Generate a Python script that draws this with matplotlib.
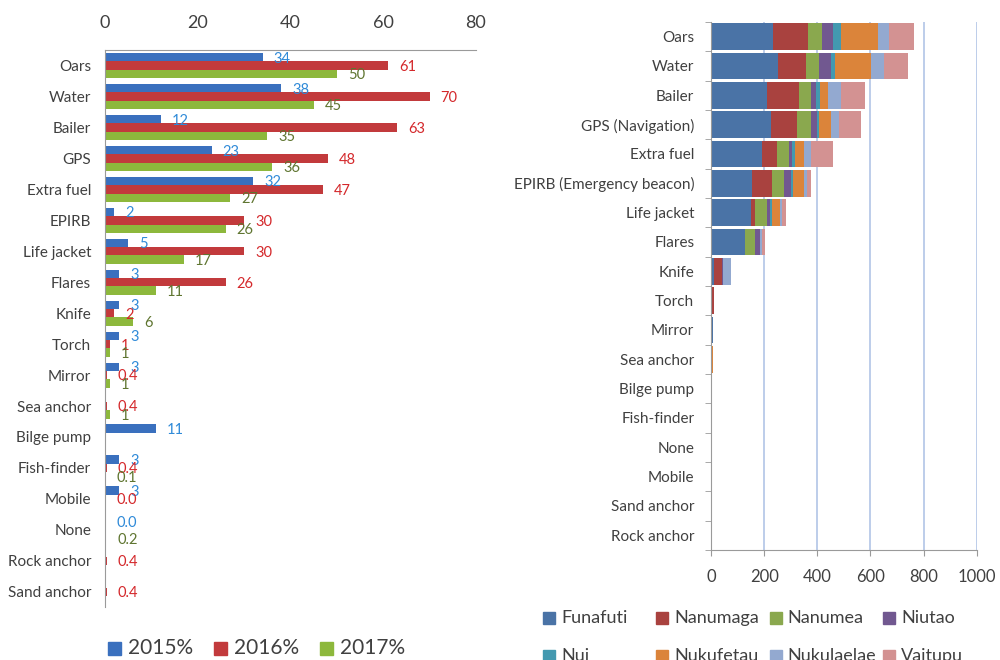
import numpy as np
import matplotlib.pyplot as plt
from matplotlib.patches import Rectangle

plt.rcParams['font.family'] = ['Lato', 'DejaVu Sans']

# ---------------- left chart data (percent of boats) ----------------
items_left = ['Oars', 'Water', 'Bailer', 'GPS', 'Extra fuel', 'EPIRB', 'Life jacket',
              'Flares', 'Knife', 'Torch', 'Mirror', 'Sea anchor', 'Bilge pump',
              'Fish-finder', 'Mobile', 'None', 'Rock anchor', 'Sand anchor']
pct_2015 = [34, 38, 12, 23, 32, 2, 5, 3, 3, 3, 3, None, 11, 3, 3, 0.0, None, None]
pct_2016 = [61, 70, 63, 48, 47, 30, 30, 26, 2, 1, 0.4, 0.4, None, 0.4, 0.0, None, 0.4, 0.4]
pct_2017 = [50, 45, 35, 36, 27, 26, 17, 11, 6, 1, 1, 1, None, 0.1, None, 0.2, None, None]
years = ['2015%', '2016%', '2017%']

# ---------------- right chart data (counts by island) ----------------
items_right = ['Oars', 'Water', 'Bailer', 'GPS (Navigation)', 'Extra fuel',
               'EPIRB (Emergency beacon)', 'Life jacket', 'Flares', 'Knife', 'Torch',
               'Mirror', 'Sea anchor', 'Bilge pump', 'Fish-finder', 'None', 'Mobile',
               'Sand anchor', 'Rock anchor']
islands = ['Funafuti', 'Nanumaga', 'Nanumea', 'Niutao', 'Nui', 'Nukufetau', 'Nukulaelae', 'Vaitupu']
funafuti = [232, 251, 211, 226, 192, 156, 152, 129, 11, 1, 7, 2, 5, 0, 0, 0, 0, 0]
nanumaga = [132, 106, 122, 96, 55, 72, 15, 0, 30, 9, 0, 0, 0, 0, 0, 0, 0, 0]
nanumea = [52, 51, 42, 54, 46, 46, 44, 37, 1, 0, 0, 0, 0, 0, 4, 0, 0, 0]
niutao = [45, 44, 19, 22, 11, 26, 10, 19, 2, 0, 0, 0, 0, 0, 0, 0, 0, 0]
nui = [30, 15, 17, 8, 11, 10, 7, 0, 2, 0, 0, 0, 0, 0, 0, 0, 0, 0]
nukufetau = [137, 134, 29, 46, 35, 40, 31, 0, 0, 0, 0, 5, 0, 4, 0, 0, 0, 0]
nukulaelae = [42, 49, 51, 30, 26, 10, 7, 6, 30, 0, 0, 0, 0, 0, 0, 0, 0, 0]
vaitupu = [94, 91, 90, 82, 85, 15, 15, 12, 0, 1, 0, 0, 0, 0, 0, 0, 0, 0]
island_counts = [funafuti, nanumaga, nanumea, niutao, nui, nukufetau, nukulaelae, vaitupu]

year_colors = ['#3A70BE', '#C23A3C', '#8DB83C']
label_colors = ['#2F8AD8', '#D4282B', '#5F7530']
island_colors = ['#4A73A6', '#A9423F', '#8AA84E', '#715890', '#4399B0', '#DB843A', '#93A9D0', '#D39292']
grey = '#9A9A9A'
text_col = '#404040'

fig = plt.figure(figsize=(10, 6.6), dpi=100, facecolor='white')

#-------------------- LEFT: grouped bars --------------------
ax = fig.add_axes([0.105, 0.080, 0.371, 0.844])
y = np.arange(len(items_left))
h = 0.27
for k, vals in enumerate([pct_2015, pct_2016, pct_2017]):
    pos = y + (k - 1) * h
    v = np.array([np.nan if a is None else a for a in vals], dtype=float)
    ax.barh(pos, np.nan_to_num(v), height=h, color=year_colors[k], edgecolor='none')
    for p, a in zip(pos, vals):
        if a is None:
            continue
        txt = f'{a:.1f}' if a < 1 else f'{a:.0f}'
        ax.annotate(txt, (a, p), xytext=(8, -1), textcoords='offset points',
                    ha='left', va='center', fontsize=10.5, color=label_colors[k])

ax.set_xlim(0, 80)
ax.set_ylim(len(items_left) - 0.5, -0.5)
ax.set_xticks(np.arange(0, 81, 20))
ax.xaxis.tick_top()
ax.tick_params(axis='x', length=0, pad=14, labelsize=13, colors=text_col)
ax.set_yticks(y)
ax.set_yticklabels(items_left)
ax.tick_params(axis='y', length=0, pad=10, labelsize=11, colors=text_col)
for s in ['right', 'bottom']:
    ax.spines[s].set_visible(False)
for s in ['top', 'left']:
    ax.spines[s].set_color(grey)

# left legend
for k, name in enumerate(years):
    x0 = 0.108 + k * 0.106
    fig.patches.append(Rectangle((x0, 1 - 655 / 660), 0.013, 13 / 660,
                                 transform=fig.transFigure, color=year_colors[k]))
    fig.text(x0 + 0.02, 1 - 648 / 660, name, ha='left', va='center',
             fontsize=15, color=text_col)

#-------------------- RIGHT: stacked bars --------------------
ax2 = fig.add_axes([0.711, 0.1667, 0.2657, 0.8])
y2 = np.arange(len(items_right))
left = np.zeros(len(items_right))
for k, vals in enumerate(island_counts):
    ax2.barh(y2, vals, left=left, height=0.9, color=island_colors[k],
             edgecolor='none', zorder=2)
    left += np.array(vals)

ax2.set_xlim(0, 1000)
ax2.set_ylim(len(items_right) - 0.5, -0.5)
ax2.set_xticks(np.arange(0, 1001, 200))
ax2.grid(axis='x', color='#B7C9E8', linewidth=1.3, zorder=0)
ax2.set_axisbelow(True)
ax2.tick_params(axis='x', length=4, color=grey, pad=10, labelsize=12, colors=text_col)
ax2.tick_params(axis='x', color=grey)
ax2.set_yticks(y2)
ax2.set_yticklabels(items_right)
ax2.set_yticks(np.arange(-0.5, len(items_right), 1), minor=True)
ax2.tick_params(axis='y', which='major', length=0, pad=12, labelsize=11, colors=text_col)
ax2.tick_params(axis='y', which='minor', length=4, color=grey)
for s in ['right', 'top']:
    ax2.spines[s].set_visible(False)
for s in ['left', 'bottom']:
    ax2.spines[s].set_color(grey)

# right legend (4 columns, runs off the bottom like the original)
for k, name in enumerate(islands):
    row, col = divmod(k, 4)
    x0 = 0.543 + col * 0.1133
    yc = 1 - (618 + row * 38) / 660
    fig.patches.append(Rectangle((x0, yc - 6 / 660), 0.012, 12 / 660,
                                 transform=fig.transFigure, color=island_colors[k]))
    fig.text(x0 + 0.018, yc, name, ha='left', va='center', fontsize=13, color=text_col)

fig.savefig('out.png', dpi=100, facecolor='white')
